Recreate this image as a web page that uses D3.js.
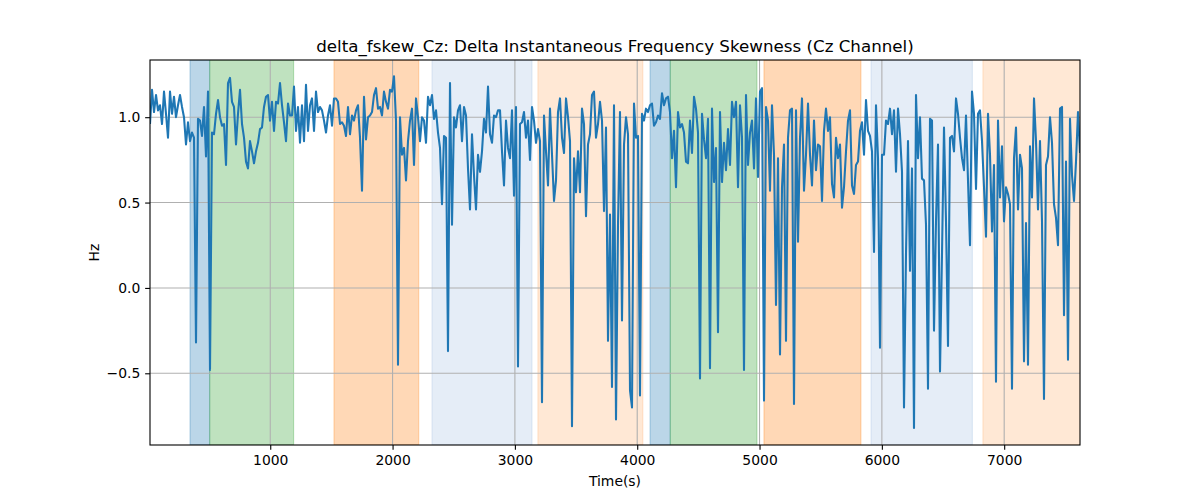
<!DOCTYPE html>
<html><head><meta charset="utf-8">
<script src="https://cdn.jsdelivr.net/npm/d3@7"></script>
<style>body{margin:0;background:#fff;} svg{display:block;font-family:"DejaVu Sans",sans-serif;}</style>
</head><body>
<svg id="c" width="1200" height="500"></svg>
<script>
// Sampling of the series (seconds)
const startTime = 17;
const sampleStep = 16.35;

// Skewness values (Hz)
const values = [
 0.96,1.16,1.03,1.13,1.04,1.07,0.96,1.15,1.02,0.88,
 1.15,1.02,1.12,1.00,1.07,1.13,1.06,1.00,0.84,0.97,
 0.86,0.91,0.88,-0.32,0.99,0.98,0.89,1.06,0.77,1.15,
 -0.48,0.91,0.90,1.02,1.10,1.00,0.95,0.96,0.72,1.20,
 1.23,1.09,1.06,0.84,1.02,1.16,0.96,0.88,0.74,0.70,
 0.86,0.80,0.73,0.80,0.85,0.93,0.94,1.06,1.12,1.13,
 0.98,1.09,0.92,1.09,1.08,1.20,1.07,0.97,0.86,1.08,
 1.01,1.01,1.18,0.92,1.06,0.85,1.07,0.86,1.19,0.92,
 // segment 2
 1.07,1.11,0.92,1.15,1.03,1.06,1.04,0.98,0.91,1.01,
 1.07,0.95,1.11,1.11,1.09,0.96,0.97,0.95,0.89,1.06,
 0.90,1.01,0.98,1.04,1.07,0.88,0.57,1.12,0.87,1.00,
 1.01,1.03,1.13,1.17,1.05,1.06,1.01,1.15,1.09,1.05,
 1.16,1.15,1.24,0.98,-0.45,1.00,0.78,0.82,0.63,0.86,
 0.98,1.05,0.72,1.11,1.00,0.86,1.00,0.98,0.85,1.12,
 1.07,1.13,0.99,1.04,0.91,0.82,0.49,0.89,0.88,-0.37,
 1.20,0.37,1.00,0.94,1.04,1.07,0.86,1.06,1.01,0.70,
 // segment 3
 0.46,0.90,0.66,0.46,0.78,0.68,0.80,0.99,0.91,1.18,
 0.90,0.85,1.01,1.00,1.04,1.04,0.80,0.60,0.98,0.82,
 0.76,1.04,0.54,1.06,-0.46,0.96,0.97,1.03,0.88,0.98,
 0.75,1.06,0.98,0.85,0.93,0.86,-0.67,1.01,0.80,0.60,
 1.05,0.78,0.51,0.63,1.03,1.11,0.88,0.79,1.11,1.00,
 0.86,-0.81,0.76,0.56,0.80,0.56,1.05,0.96,0.42,0.84,
 0.90,1.13,1.15,0.88,0.96,1.09,0.98,0.45,0.94,-0.31,
 0.43,-0.58,1.07,-0.77,0.37,1.03,-0.19,0.84,1.00,0.90,
 // segment 4
 -0.60,-0.70,1.08,0.88,0.89,-0.63,1.02,0.98,1.05,1.03,
 1.07,1.08,0.95,0.97,1.01,0.99,1.14,1.07,1.11,1.12,
 1.03,0.76,0.92,0.59,1.03,0.94,0.96,0.91,0.74,0.73,
 0.98,0.79,1.12,1.05,0.91,-0.53,1.02,0.87,0.76,0.99,
 -0.47,1.05,0.62,0.82,-0.26,1.03,0.62,0.85,0.69,0.93,
 0.72,1.09,1.00,1.09,0.59,1.07,0.88,-0.48,1.13,0.72,
 0.91,0.98,0.70,1.11,0.65,1.15,1.17,-0.66,1.06,0.98,
 0.57,1.07,0.78,-0.10,0.76,-0.39,0.59,0.84,-0.31,0.88,
 // segment 5
 1.04,1.05,-0.68,1.04,0.27,0.88,1.11,0.57,0.78,1.08,
 0.78,0.60,0.98,0.69,0.84,0.83,0.51,0.92,1.05,0.92,
 1.00,0.61,0.53,0.88,0.76,0.84,0.47,0.59,0.80,0.98,
 1.04,0.60,0.55,0.72,0.74,0.92,0.97,0.78,1.10,0.92,
 0.89,0.80,0.21,1.07,0.76,-0.35,0.78,0.78,0.98,0.96,
 1.05,0.90,1.04,0.68,1.05,0.90,0.68,-0.70,0.20,0.86,
 0.10,0.70,-0.82,1.13,0.76,1.00,0.64,0.63,0.37,-0.59,
 0.99,0.98,-0.25,0.39,0.84,
 // segment 6
 -0.49,0.20,0.94,0.39,-0.34,0.88,0.89,0.80,1.11,1.02,
 0.88,0.76,0.69,1.01,0.63,0.25,1.15,1.02,0.58,1.02,
 1.04,0.86,0.59,0.30,1.02,0.78,0.33,0.72,-0.55,0.98,
 0.53,0.83,0.39,0.59,0.55,0.49,-0.59,0.76,0.94,0.46,
 0.78,0.70,-0.43,0.38,-0.45,0.83,0.53,1.11,0.86,0.46,
 0.86,0.39,-0.65,0.72,0.77,1.00,0.85,0.49,0.41,0.25,
 1.05,1.06,-0.16,0.74,-0.42,0.99,0.66,0.51,0.74,1.03,
 0.79
];

// Shaded intervals (seconds)
const spanStarts = [344, 505, 1521, 2322, 3188, 4105, 4270, 5036, 5911, 6826];
const spanEnds   = [505, 1191, 2214, 3140, 4046, 4270, 4979, 5829, 6740, 7640];
const spanKinds  = ["blue","green","orange","lightblue","lightorange","blue","green","orange","lightblue","lightorange"];

const xTicks = [1000, 2000, 3000, 4000, 5000, 6000, 7000];
const yTicks = [-0.5, 0.0, 0.5, 1.0];

const title = "delta_fskew_Cz: Delta Instantaneous Frequency Skewness (Cz Channel)";
const xLabel = "Time(s)";
const yLabel = "Hz";

const spanFill = {
  blue: "rgba(31,119,180,0.3)",
  green: "rgba(44,160,44,0.3)",
  orange: "rgba(255,127,14,0.3)",
  lightblue: "rgba(116,160,214,0.19)",
  lightorange: "rgba(253,160,80,0.24)"
};

const W = 1200, H = 500;
const m = {left:150, right:1080, top:60, bottom:445};
const svg = d3.select("#c");

const data = values.map((v,i) => ({t: startTime + i*sampleStep, v}));
const xMin = data[0].t, xMax = data[data.length-1].t;

const x = d3.scaleLinear().domain([xMin, xMax]).range([m.left, m.right]);
const y = d3.scaleLinear().domain([-0.92, 1.335]).range([m.bottom, m.top]);

svg.append("clipPath").attr("id","clip").append("rect")
  .attr("x", m.left).attr("y", m.top).attr("width", m.right-m.left).attr("height", m.bottom-m.top);

const plot = svg.append("g").attr("clip-path","url(#clip)");

// spans
plot.selectAll("rect.span").data(spanStarts.map((s,i)=>({s, e:spanEnds[i], k:spanKinds[i]})))
  .enter().append("rect").attr("class","span")
  .attr("x", d=>x(d.s)).attr("width", d=>x(d.e)-x(d.s))
  .attr("y", m.top).attr("height", m.bottom-m.top)
  .attr("fill", d=>spanFill[d.k])
  .attr("stroke", d=>spanFill[d.k]).attr("stroke-width", 1.1);

// grid
plot.selectAll("line.gx").data(xTicks).enter().append("line")
  .attr("x1", d=>x(d)).attr("x2", d=>x(d)).attr("y1", m.top).attr("y2", m.bottom)
  .attr("stroke","#b0b0b0").attr("stroke-width",1.1);
plot.selectAll("line.gy").data(yTicks).enter().append("line")
  .attr("y1", d=>y(d)).attr("y2", d=>y(d)).attr("x1", m.left).attr("x2", m.right)
  .attr("stroke","#b0b0b0").attr("stroke-width",1.1);

// line
plot.append("path").datum(data)
  .attr("d", d3.line().x(d=>x(d.t)).y(d=>y(d.v)))
  .attr("fill","none").attr("stroke","#1f77b4").attr("stroke-width",2.08)
  .attr("stroke-linejoin","round").attr("stroke-linecap","butt");

// axes
const fmtY = d3.format(".1f");
const xAxis = svg.append("g").attr("transform",`translate(0,${m.bottom})`)
  .call(d3.axisBottom(x).tickValues(xTicks).tickFormat(d3.format("d")).tickSize(4.86).tickPadding(4.86));
const yAxis = svg.append("g").attr("transform",`translate(${m.left},0)`)
  .call(d3.axisLeft(y).tickValues(yTicks).tickFormat(fmtY).tickSize(4.86).tickPadding(4.86));
[xAxis, yAxis].forEach(g => {
  g.select(".domain").remove();
  g.selectAll("line").attr("stroke","#000").attr("stroke-width",1.1);
  g.selectAll("text").attr("fill","#000").style("font-size","13.9px").style("font-family","DejaVu Sans");
});

// frame
svg.append("rect").attr("x", m.left).attr("y", m.top)
  .attr("width", m.right-m.left).attr("height", m.bottom-m.top)
  .attr("fill","none").attr("stroke","#000").attr("stroke-width",1.1);

// labels
svg.append("text").attr("x", (m.left+m.right)/2).attr("y", 52)
  .attr("text-anchor","middle").style("font-size","16.7px").text(title);
svg.append("text").attr("x", (m.left+m.right)/2).attr("y", 486)
  .attr("text-anchor","middle").style("font-size","13.9px").text(xLabel);
svg.append("text").attr("transform",`translate(99,${(m.top+m.bottom)/2}) rotate(-90)`)
  .attr("text-anchor","middle").style("font-size","13.9px").text(yLabel);
</script>
</body></html>
